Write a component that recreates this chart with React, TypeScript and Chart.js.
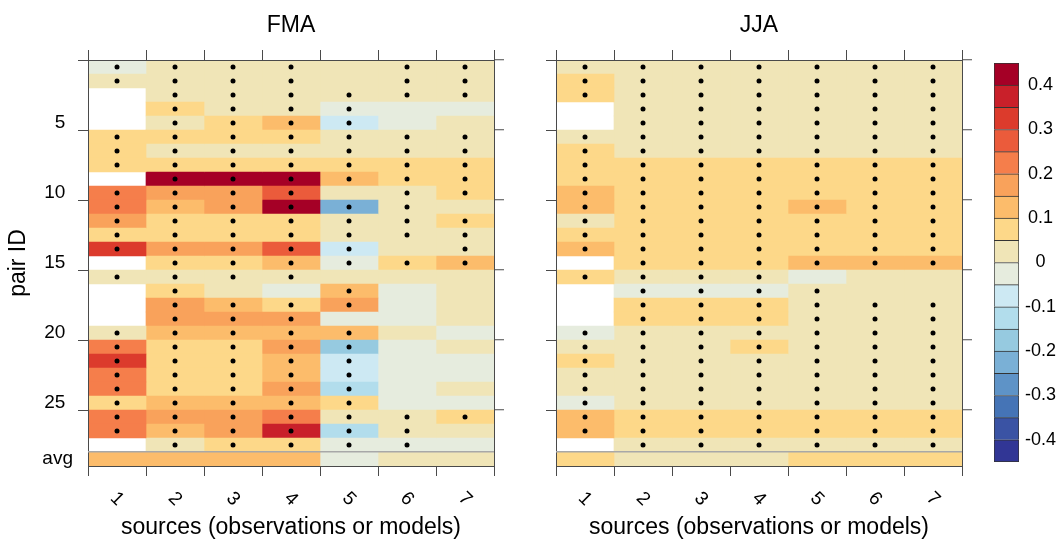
import React, { useEffect, useRef } from 'react';
import { Chart, registerables } from 'chart.js';

Chart.register(...registerables);
Chart.defaults.font.family = '"Liberation Sans", Arial, Helvetica, sans-serif';
Chart.defaults.color = '#000';

// ---------------- data ----------------
const SOURCES = ['1', '2', '3', '4', '5', '6', '7'];
const ROW_TICK_LABELS: Record<number, string> = { 5: '5', 10: '10', 15: '15', 20: '20', 25: '25', 29: 'avg' };
const X_TITLE = 'sources (observations or models)';
const Y_TITLE = 'pair ID';

// rows 1..28 then "avg" (29th entry); null = missing pair
const FMA_S1 = [-0.02, 0.02, null, null, null, 0.08, 0.07, 0.08, null, 0.23, 0.22, 0.17, 0.07, 0.32, null, 0.03, null, null, null, 0.02, 0.22, 0.33, 0.23, 0.22, 0.08, 0.22, 0.23, null, 0.12];
const FMA_S2 = [0.03, 0.02, 0.03, 0.07, 0.04, 0.08, 0.03, 0.08, 0.44, 0.17, 0.13, 0.07, 0.08, 0.18, 0.07, 0.02, 0.07, 0.17, 0.18, 0.13, 0.08, 0.07, 0.08, 0.08, 0.12, 0.17, 0.13, 0.03, 0.12];
const FMA_S3 = [0.02, 0.03, 0.02, 0.04, 0.07, 0.08, 0.03, 0.07, 0.43, 0.18, 0.17, 0.08, 0.07, 0.17, 0.08, 0.03, 0.02, 0.13, 0.17, 0.12, 0.08, 0.07, 0.08, 0.07, 0.13, 0.17, 0.18, 0.07, 0.13];
const FMA_S4 = [0.03, 0.02, 0.03, 0.02, 0.12, 0.08, 0.04, 0.08, 0.42, 0.27, 0.43, 0.07, 0.08, 0.28, 0.13, 0.02, -0.02, 0.08, 0.17, 0.12, 0.17, 0.13, 0.12, 0.18, 0.12, 0.23, 0.37, 0.07, 0.12];
const FMA_S5 = [0.02, 0.03, 0.01, -0.02, -0.07, 0.02, 0.03, 0.07, 0.13, 0.02, -0.22, 0.03, 0.02, -0.07, -0.03, 0.02, 0.12, 0.17, -0.02, 0.13, -0.17, -0.08, -0.07, -0.12, 0.08, 0.03, -0.12, -0.03, -0.02];
const FMA_S6 = [0.03, 0.02, 0.02, -0.02, -0.01, 0.03, 0.02, 0.08, 0.07, 0.02, 0.03, 0.02, 0.03, 0.02, 0.07, 0.02, -0.02, -0.01, -0.02, 0.02, -0.02, -0.01, -0.02, -0.02, -0.01, 0.03, 0.02, -0.02, 0.02];
const FMA_S7 = [0.03, 0.02, 0.03, -0.02, 0.02, 0.03, 0.02, 0.08, 0.07, 0.08, 0.02, 0.07, 0.03, 0.02, 0.13, 0.02, 0.03, 0.02, 0.03, -0.02, 0.02, -0.01, -0.02, 0.03, -0.02, 0.07, 0.02, -0.01, 0.02];

const JJA_S1 = [0.03, 0.07, 0.08, null, null, 0.04, 0.07, 0.08, 0.08, 0.12, 0.13, 0.03, 0.07, 0.12, null, 0.07, null, null, null, -0.02, 0.03, 0.08, 0.02, 0.03, -0.01, 0.13, 0.12, null, 0.07];
const JJA_S2 = [0.02, 0.03, 0.02, 0.03, 0.02, 0.03, 0.02, 0.07, 0.08, 0.07, 0.08, 0.07, 0.08, 0.07, 0.08, 0.02, -0.02, 0.07, 0.08, 0.02, 0.03, 0.02, 0.03, 0.02, 0.03, 0.08, 0.07, 0.03, 0.03];
const JJA_S3 = [0.03, 0.02, 0.03, 0.02, 0.03, 0.02, 0.03, 0.08, 0.07, 0.08, 0.07, 0.08, 0.07, 0.08, 0.07, 0.03, -0.01, 0.08, 0.07, 0.03, 0.02, 0.03, 0.02, 0.03, 0.02, 0.07, 0.08, 0.02, 0.02];
const JJA_S4 = [0.02, 0.03, 0.02, 0.03, 0.02, 0.03, 0.02, 0.07, 0.08, 0.07, 0.08, 0.07, 0.08, 0.07, 0.08, 0.02, -0.02, 0.07, 0.08, 0.02, 0.07, 0.03, 0.02, 0.03, 0.02, 0.08, 0.07, 0.03, 0.03];
const JJA_S5 = [0.03, 0.02, 0.03, 0.02, 0.03, 0.02, 0.03, 0.08, 0.07, 0.08, 0.12, 0.07, 0.08, 0.07, 0.13, -0.02, 0.03, 0.02, 0.03, 0.02, 0.03, 0.02, 0.03, 0.02, 0.03, 0.08, 0.07, 0.02, 0.06];
const JJA_S6 = [0.02, 0.03, 0.02, 0.03, 0.02, 0.03, 0.02, 0.07, 0.08, 0.07, 0.08, 0.07, 0.08, 0.07, 0.12, 0.03, 0.02, 0.03, 0.02, 0.03, 0.02, 0.03, 0.02, 0.03, 0.02, 0.07, 0.08, 0.03, 0.07];
const JJA_S7 = [0.03, 0.02, 0.03, 0.02, 0.03, 0.02, 0.03, 0.08, 0.07, 0.08, 0.07, 0.08, 0.07, 0.08, 0.13, 0.02, 0.03, 0.02, 0.03, 0.02, 0.03, 0.02, 0.03, 0.02, 0.03, 0.08, 0.07, 0.02, 0.07];

// significance markers, rows 1..28 ("1" = dot)
const FMA_DOTS = [
  '1100011101111101000111111110',
  '1111111111111111111111111111',
  '1111111111111111011111111111',
  '1111111111111111011111111111',
  '0011111110111110110111111111',
  '1110011111111010000000000111',
  '1110011111011110000000000100',
];
const JJA_DOTS = [
  '1110011111111101000111111110',
  '1111111111111111111111111111',
  '1111111111111111111111111111',
  '1111111111111111111111111111',
  '1111111111111110111111111111',
  '1111111111111110011111111111',
  '1111111111111110011111111111',
];

// colour scale: 18 bins from -0.45 to 0.45 (bottom to top)
const LEVELS = [-0.45, -0.4, -0.35, -0.3, -0.25, -0.2, -0.15, -0.1, -0.05, 0, 0.05, 0.1, 0.15, 0.2, 0.25, 0.3, 0.35, 0.4, 0.45];
const BIN_COLORS = [
  '#313695', '#3a53a4', '#4574b6', '#5e93c7', '#7ab0d6', '#96cae0', '#b2ddec', '#cde9f3', '#e6ecde',
  '#f0e5b7', '#fdd889', '#fcbc6b', '#f9a25b', '#f57e4b', '#eb5b3b', '#dc3b2c', '#c9202a', '#a50026',
];
const CB_TICKS = [-0.4, -0.3, -0.2, -0.1, 0, 0.1, 0.2, 0.3, 0.4];

// ---------------- helpers ----------------
const W = 1061;
const H = 541;
const AXIS = '#4a4a4a';
const CLEAR = 'rgba(0,0,0,0)';
const ROW_BOUNDS = [0.5, 5.5, 10.5, 15.5, 20.5, 25.5];
const COL_BOUNDS = [0.5, 1.5, 2.5, 3.5, 4.5, 5.5, 6.5, 7.5];

function colorFor(v: number) {
  let i = 0;
  while (i < BIN_COLORS.length - 1 && v >= LEVELS[i + 1]) i++;
  return BIN_COLORS[i];
}

const xLabelPlugin = {
  id: 'rotatedXLabels',
  afterDraw(chart: any) {
    const sc = chart.scales.x;
    const ctx = chart.ctx;
    ctx.save();
    ctx.font = '19px "Liberation Sans", Arial, sans-serif';
    ctx.fillStyle = '#000';
    ctx.textAlign = 'center';
    ctx.textBaseline = 'middle';
    SOURCES.forEach((s, i) => {
      const px = sc.getPixelForValue(i + 1);
      ctx.save();
      ctx.translate(px, sc.top + 33);
      ctx.rotate(Math.PI / 4);
      ctx.fillText(s, 0, 0);
      ctx.restore();
    });
    ctx.restore();
  },
};

function panelConfig(title: string, columns: (number | null)[][], dots: string[], showY: boolean, leftW: number, rightW: number) {
  const dotData: { x: number; y: number }[] = [];
  dots.forEach((col, c) => {
    for (let r = 0; r < col.length; r++) if (col[r] === '1') dotData.push({ x: c + 1, y: r + 1 });
  });
  const barSets = columns.map((col, c) => {
    const cells: any[] = [];
    col.forEach((v, r) => {
      if (v !== null) cells.push({ x: [c + 0.5, c + 1.5], y: r + 1, v });
    });
    return {
      type: 'bar',
      label: SOURCES[c],
      indexAxis: 'y',
      data: cells,
      backgroundColor: cells.map((d) => colorFor(d.v)),
      borderWidth: 0,
      grouped: false,
      barPercentage: 1,
      categoryPercentage: 1,
      xAxisID: 'x',
      yAxisID: 'y2',
      order: 1,
    };
  });
  const scatter = {
    type: 'scatter',
    label: 'significant',
    data: dotData,
    pointRadius: 2.5,
    pointBackgroundColor: '#000',
    pointBorderWidth: 0,
    xAxisID: 'x',
    yAxisID: 'y2',
    order: 0,
  };
  const borderOpt = { display: true, color: AXIS, width: 1, z: 1 };
  return {
    type: 'bar',
    data: { datasets: [scatter, ...barSets] },
    plugins: [xLabelPlugin],
    options: {
      responsive: false,
      animation: false,
      events: [],
      layout: { padding: 0 },
      plugins: { legend: { display: false }, tooltip: { enabled: false } },
      scales: {
        x: {
          type: 'linear',
          position: 'bottom',
          offset: false,
          min: 0.5,
          max: 7.5,
          afterBuildTicks: (s: any) => { s.ticks = COL_BOUNDS.map((v) => ({ value: v })); },
          ticks: { autoSkip: false, maxRotation: 0, callback: () => '' },
          grid: { offset: false, drawOnChartArea: false, tickLength: 10, tickColor: AXIS, tickWidth: 1 },
          border: borderOpt,
          title: { display: true, text: X_TITLE, font: { size: 23 }, padding: { top: 0, bottom: 0 }, color: '#000' },
          afterFit: (s: any) => { s.height = 75; },
        },
        x2: {
          type: 'linear',
          position: 'top',
          offset: false,
          min: 0.5,
          max: 7.5,
          afterBuildTicks: (s: any) => { s.ticks = COL_BOUNDS.map((v) => ({ value: v })); },
          ticks: { autoSkip: false, maxRotation: 0, callback: () => '' },
          grid: { offset: false, drawOnChartArea: false, tickLength: 10, tickColor: AXIS, tickWidth: 1 },
          border: borderOpt,
          title: { display: true, text: title, font: { size: 23 }, padding: { top: 12, bottom: 0 }, color: '#000' },
          afterFit: (s: any) => { s.height = 60; },
        },
        y: {
          type: 'linear',
          position: 'left',
          offset: false,
          reverse: true,
          min: 0.5,
          max: 29.5,
          afterBuildTicks: (s: any) => {
            const vals = [...ROW_BOUNDS, ...Object.keys(ROW_TICK_LABELS).map(Number)].sort((a, b) => a - b);
            s.ticks = vals.map((v) => ({ value: v }));
          },
          ticks: {
            autoSkip: false,
            padding: 5,
            font: { size: 19 },
            color: '#000',
            callback: (v: number) => {
              if (!showY) return '';
              const lab = ROW_TICK_LABELS[v];
              if (!lab) return '';
              return lab === 'avg' ? lab : lab + '\u2009\u2009';
            },
          },
          grid: {
            offset: false,
            drawOnChartArea: false,
            tickLength: 10,
            tickWidth: 1,
            tickColor: (ctx: any) => (ctx.tick && ROW_BOUNDS.includes(ctx.tick.value) ? AXIS : CLEAR),
          },
          border: borderOpt,
          title: { display: showY, text: Y_TITLE, font: { size: 23 }, padding: { top: 5, bottom: 0 }, color: '#000' },
          afterFit: (s: any) => { s.width = leftW; },
        },
        y2: {
          type: 'linear',
          position: 'right',
          offset: false,
          reverse: true,
          min: 0.5,
          max: 29.5,
          afterBuildTicks: (s: any) => { s.ticks = [...ROW_BOUNDS, 28.5].map((v) => ({ value: v })); },
          ticks: { autoSkip: false, callback: () => '' },
          grid: {
            z: 1,
            offset: false,
            drawOnChartArea: true,
            tickLength: 10,
            lineWidth: 1.5,
            tickWidth: 1,
            color: (ctx: any) => (ctx.tick && ctx.tick.value === 28.5 ? '#a8a8a8' : CLEAR),
            tickColor: (ctx: any) => (ctx.tick && ctx.tick.value === 28.5 ? CLEAR : AXIS),
          },
          border: borderOpt,
          afterFit: (s: any) => { s.width = rightW; },
        },
      },
    },
  };
}

function colorbarConfig() {
  return {
    type: 'bar',
    data: {
      labels: [''],
      datasets: BIN_COLORS.map((col, i) => ({
        label: String(LEVELS[i]),
        data: [[LEVELS[i], LEVELS[i + 1]]],
        backgroundColor: col,
        borderColor: '#333',
        borderWidth: { top: 1, left: 1, right: 1, bottom: i === 0 ? 1 : 0 },
        borderSkipped: false,
        grouped: false,
        barPercentage: 1,
        categoryPercentage: 1,
      })),
    },
    options: {
      responsive: false,
      animation: false,
      events: [],
      layout: { padding: { left: 24, top: 63, bottom: 79, right: 0 } },
      plugins: { legend: { display: false }, tooltip: { enabled: false } },
      scales: {
        x: { display: false },
        y: {
          position: 'right',
          min: -0.45,
          max: 0.45,
          afterBuildTicks: (s: any) => { s.ticks = CB_TICKS.map((v) => ({ value: v })); },
          ticks: {
            autoSkip: false,
            crossAlign: 'center',
            padding: 6,
            font: { size: 18 },
            color: '#000',
            callback: (v: number) => (Math.abs(v) < 1e-9 ? '0' : v.toFixed(1)),
          },
          grid: { display: false, drawTicks: false },
          border: { display: false },
          afterFit: (s: any) => { s.width = 42; },
        },
      },
    },
  };
}

function ChartCanvas({ make, left, width }: { make: () => any; left: number; width: number }) {
  const ref = useRef<HTMLCanvasElement | null>(null);
  useEffect(() => {
    const chart = new Chart(ref.current as HTMLCanvasElement, make());
    return () => chart.destroy();
  }, []);
  return (
    <canvas
      ref={ref}
      width={width}
      height={H}
      style={{ position: 'absolute', left, top: 0, width, height: H }}
    />
  );
}

export default function App() {
  return (
    <div style={{ position: 'fixed', left: 0, top: 0, width: W, height: H, background: '#fff', overflow: 'hidden' }}>
      <ChartCanvas
        left={0}
        width={525}
        make={() => panelConfig('FMA', [FMA_S1, FMA_S2, FMA_S3, FMA_S4, FMA_S5, FMA_S6, FMA_S7], FMA_DOTS, true, 88, 31)}
      />
      <ChartCanvas
        left={530}
        width={460}
        make={() => panelConfig('JJA', [JJA_S1, JJA_S2, JJA_S3, JJA_S4, JJA_S5, JJA_S6, JJA_S7], JJA_DOTS, false, 26, 28)}
      />
      <ChartCanvas left={970} width={91} make={colorbarConfig} />
    </div>
  );
}
